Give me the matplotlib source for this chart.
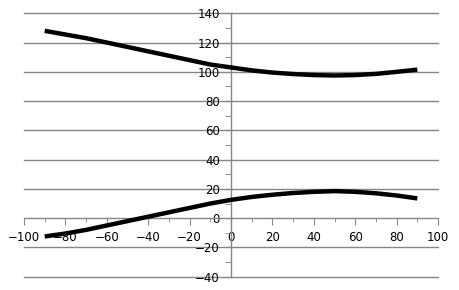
import numpy as np
import matplotlib.pyplot as plt
from matplotlib.ticker import MultipleLocator

# valores
x = [-90, -80, -70, -60, -50, -40, -30, -20, -10, 0, 10, 20, 30, 40, 50, 60, 70, 80, 90]
y_sup = [128, 125.5, 123, 120, 117, 114, 111, 108, 105, 103, 101, 99.5, 98.5, 97.8, 97.5, 97.8, 98.6, 100, 101.5]
y_inf = [-12.5, -10.5, -8, -5, -2, 1, 4, 7, 10, 12.5, 14.5, 16, 17.2, 18, 18.5, 18, 17, 15.5, 13.5]

cinza = '#868686'

fig = plt.figure(figsize=(4.59, 2.90), dpi=100)
ax = fig.add_axes([24/459, 13.3/290, 414/459, 263.4/290])

ax.plot(x, y_sup, color='black', lw=3.2, solid_capstyle='butt', zorder=3)
ax.plot(x, y_inf, color='black', lw=3.2, solid_capstyle='butt', zorder=3)

ax.set_xlim(-100, 100)
ax.set_ylim(-40, 140)

# eixos cruzando na origem
ax.spines['left'].set_position(('data', 0))
ax.spines['bottom'].set_position(('data', 0))
ax.spines['top'].set_visible(False)
ax.spines['right'].set_visible(False)
for s in ['left', 'bottom']:
    ax.spines[s].set_color(cinza)
    ax.spines[s].set_linewidth(1)

ax.xaxis.set_major_locator(MultipleLocator(20))
ax.xaxis.set_minor_locator(MultipleLocator(10))
ax.yaxis.set_major_locator(MultipleLocator(20))
ax.yaxis.set_minor_locator(MultipleLocator(10))

ax.tick_params(axis='x', which='major', direction='out', length=5, color=cinza, pad=4, labelsize=8.5)
ax.tick_params(axis='x', which='minor', direction='out', length=3, color=cinza)
ax.tick_params(axis='y', which='major', direction='out', length=4, color=cinza, pad=4, labelsize=8.5)
ax.tick_params(axis='y', which='minor', direction='out', length=4, color=cinza)

# linhas de grade horizontais
for yv in range(-40, 141, 20):
    if yv != 0:
        ax.axhline(yv, color=cinza, lw=1, zorder=1, clip_on=False)

plt.savefig('out.png', dpi=100)
